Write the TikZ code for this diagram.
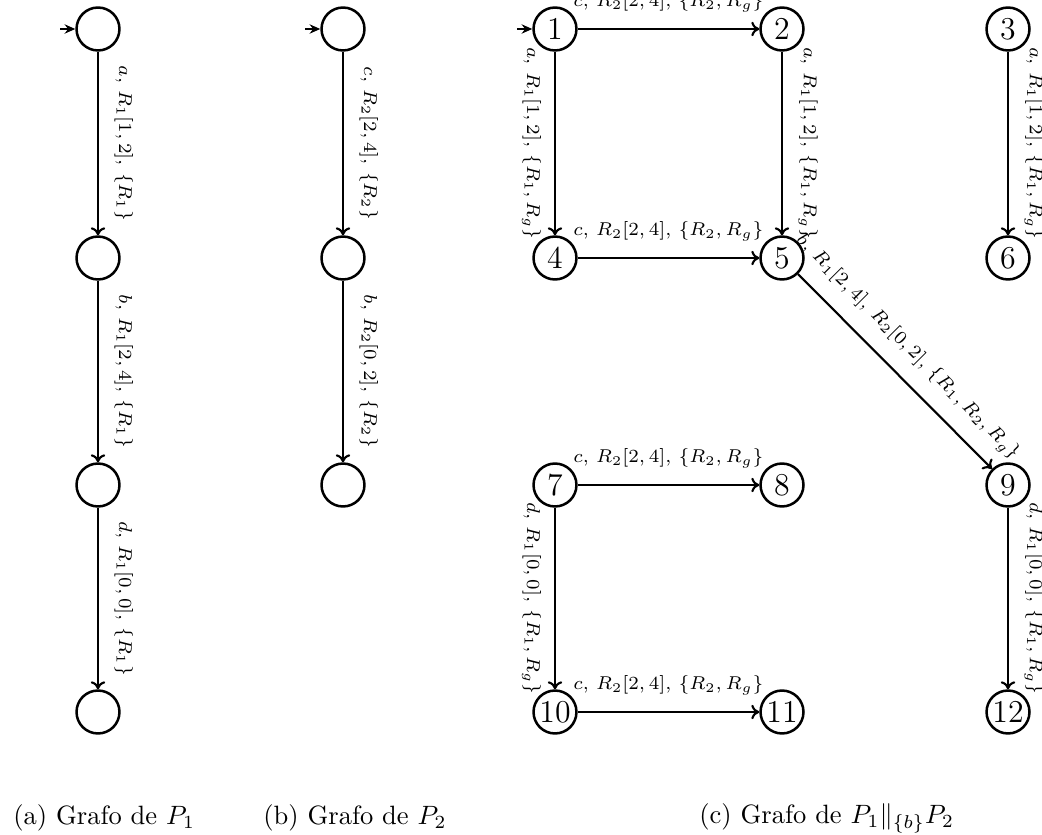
\documentclass[tikz,border=0pt]{standalone}
\usetikzlibrary{arrows.meta}
\begin{document}
\begin{tikzpicture}[x=0.3772pt,y=-0.3772pt,
  state/.style={circle,draw,line width=0.95pt,minimum size=16.2pt,inner sep=0pt,
    font=\fontsize{12}{14}\selectfont},
  trans/.style={line width=0.8pt,-{To[length=3pt,width=5.5pt]}},
  start/.style={line width=0.8pt,-{Stealth[length=4pt,width=3.5pt]}},
  lab/.style={font=\fontsize{7}{8.5}\selectfont,midway},
  rlab/.style={lab,sloped,above=2.5pt},
  llab/.style={lab,sloped,below=1.5pt},
  tlab/.style={lab,above=2.8pt},
  subcap/.style={anchor=west,font=\normalsize}]
\useasboundingbox (0,0) rectangle (1042,835);

% (a) graph of P1
\node[state] (a1) at (98,29) {};
\node[state] (a2) at (98,258) {};
\node[state] (a3) at (98,485) {};
\node[state] (a4) at (98,712) {};
\coordinate (ai) at (60,29);
\draw[start] (ai) -- (a1);
\draw[trans] (a1) -- node[rlab] {$a$, $R_1[1,2]$, $\{R_1\}$} (a2);
\draw[trans] (a2) -- node[rlab] {$b$, $R_1[2,4]$, $\{R_1\}$} (a3);
\draw[trans] (a3) -- node[rlab] {$d$, $R_1[0,0]$, $\{R_1\}$} (a4);

% (b) graph of P2
\node[state] (b1) at (343,29) {};
\node[state] (b2) at (343,258) {};
\node[state] (b3) at (343,485) {};
\coordinate (bi) at (305,29);
\draw[start] (bi) -- (b1);
\draw[trans] (b1) -- node[rlab] {$c$, $R_2[2,4]$, $\{R_2\}$} (b2);
\draw[trans] (b2) -- node[rlab] {$b$, $R_2[0,2]$, $\{R_2\}$} (b3);

% (c) graph of the parallel composition
\node[state] (c1) at (555,29) {1};
\node[state] (c2) at (782,29) {2};
\node[state] (c3) at (1008,29) {3};
\node[state] (c4) at (555,258) {4};
\node[state] (c5) at (782,258) {5};
\node[state] (c6) at (1008,258) {6};
\node[state] (c7) at (555,485) {7};
\node[state] (c8) at (782,485) {8};
\node[state] (c9) at (1008,485) {9};
\node[state] (c10) at (555,712) {10};
\node[state] (c11) at (782,712) {11};
\node[state] (c12) at (1008,712) {12};
\coordinate (ci) at (517,29);
\draw[start] (ci) -- (c1);
\draw[trans] (c1) -- node[tlab] {$c$,\ $R_2[2,4]$,\ $\{R_2,R_g\}$} (c2);
\draw[trans] (c1) -- node[llab] {$a$, $R_1[1,2]$, $\{R_1,R_g\}$} (c4);
\draw[trans] (c2) -- node[rlab] {$a$, $R_1[1,2]$, $\{R_1,R_g\}$} (c5);
\draw[trans] (c3) -- node[rlab] {$a$, $R_1[1,2]$, $\{R_1,R_g\}$} (c6);
\draw[trans] (c4) -- node[tlab] {$c$,\ $R_2[2,4]$,\ $\{R_2,R_g\}$} (c5);
\draw[trans] (c5) -- node[rlab,pos=0.47] {$b$, $R_1[2,4]$, $R_2[0,2]$, $\{R_1,R_2,R_g\}$} (c9);
\draw[trans] (c7) -- node[tlab] {$c$,\ $R_2[2,4]$,\ $\{R_2,R_g\}$} (c8);
\draw[trans] (c7) -- node[llab] {$d$, $R_1[0,0]$, $\{R_1,R_g\}$} (c10);
\draw[trans] (c9) -- node[rlab] {$d$, $R_1[0,0]$, $\{R_1,R_g\}$} (c12);
\draw[trans] (c10) -- node[tlab] {$c$,\ $R_2[2,4]$,\ $\{R_2,R_g\}$} (c11);

% captions
\node[subcap] (capa) at (4,818) {(a) Grafo de $P_1$};
\node[subcap] (capb) at (254,818) {(b) Grafo de $P_2$};
\node[subcap] (capc) at (690,818) {(c) Grafo de $P_1\|_{\{b\}}P_2$};
\end{tikzpicture}
\end{document}
